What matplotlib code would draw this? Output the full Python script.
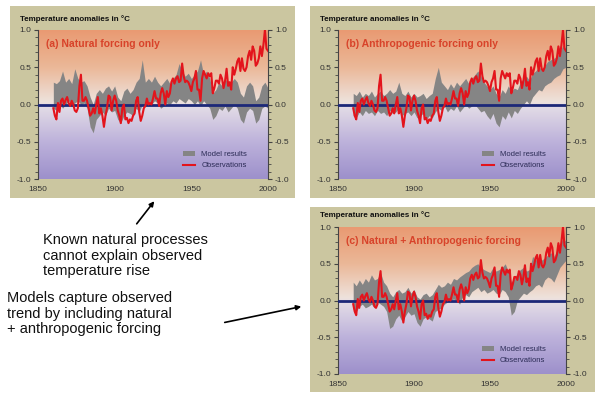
import numpy as np
import matplotlib
matplotlib.use("Agg")
import matplotlib.pyplot as plt
from matplotlib.patches import Rectangle, Patch, FancyArrowPatch
from matplotlib.lines import Line2D
from matplotlib.colors import LinearSegmentedColormap

plt.rcParams['font.family'] = ['Liberation Sans', 'DejaVu Sans']

# observed annual anomalies 1860-2000
obs_years = list(range(1860, 2001))
observations = [
    -0.05, -0.15, -0.20, 0.02, -0.10, 0.05, 0.08, 0.00, 0.06, 0.10,
    0.02, -0.02, 0.05, 0.00, -0.08, -0.10, -0.05, 0.25, 0.40, 0.05,
    0.05, 0.10, 0.05, -0.05, -0.15, -0.12, -0.05, -0.12, 0.00, 0.10,
    -0.12, -0.05, -0.15, -0.30, -0.15, -0.05, 0.12, 0.10, -0.08, 0.05,
    0.12, 0.05, -0.08, -0.15, -0.25, -0.05, 0.00, -0.20, -0.18, -0.25,
    -0.20, -0.22, -0.15, -0.12, 0.05, 0.10, -0.10, -0.22, -0.15, -0.05,
    -0.02, 0.08, 0.00, 0.02, 0.00, 0.08, 0.18, 0.08, 0.08, -0.02,
    0.15, 0.22, 0.15, 0.00, 0.18, 0.10, 0.15, 0.30, 0.35, 0.28,
    0.35, 0.38, 0.30, 0.32, 0.55, 0.38, 0.30, 0.32, 0.30, 0.25,
    0.18, 0.30, 0.35, 0.45, 0.20, 0.20, 0.05, 0.35, 0.45, 0.40,
    0.35, 0.42, 0.38, 0.42, 0.15, 0.22, 0.32, 0.32, 0.28, 0.40,
    0.35, 0.22, 0.32, 0.48, 0.25, 0.30, 0.20, 0.50, 0.40, 0.48,
    0.58, 0.62, 0.45, 0.62, 0.48, 0.45, 0.50, 0.65, 0.72, 0.60,
    0.78, 0.72, 0.52, 0.55, 0.62, 0.78, 0.65, 0.80, 1.00, 0.75,
    0.72,
]

# model envelopes, every second year 1860-2000
model_years = list(range(1860, 2001, 2))
natural_lo = [
    -0.05, -0.08, 0.02, -0.05, 0.00, 0.05, -0.02, 0.02, 0.05, 0.00,
    0.02, -0.05, -0.30, -0.38, -0.20, -0.15, -0.10, -0.15, -0.05, -0.10,
    -0.08, -0.20, -0.25, -0.15, -0.10, -0.12, -0.15, -0.05, -0.10, 0.00,
    -0.02, 0.02, 0.00, 0.05, 0.02, -0.05, -0.02, 0.02, 0.00, 0.05,
    0.02, 0.08, 0.05, 0.02, 0.08, 0.05, 0.00, 0.05, -0.02, 0.05,
    0.00, -0.05, -0.20, -0.15, -0.05, -0.08, -0.02, -0.10, -0.05, 0.00,
    -0.05, -0.20, -0.25, -0.10, -0.05, -0.08, -0.25, -0.20, -0.05, -0.02,
    -0.05,
]
natural_hi = [
    0.30, 0.28, 0.32, 0.45, 0.30, 0.35, 0.28, 0.48, 0.35, 0.30,
    0.32, 0.25, 0.10, 0.00, 0.15, 0.20, 0.15, 0.22, 0.25, 0.18,
    0.25, 0.10, 0.05, 0.18, 0.22, 0.15, 0.20, 0.30, 0.35, 0.60,
    0.30, 0.35, 0.30, 0.38, 0.30, 0.25, 0.30, 0.35, 0.28, 0.35,
    0.40, 0.55, 0.45, 0.38, 0.42, 0.35, 0.40, 0.45, 0.60, 0.40,
    0.45, 0.35, 0.15, 0.20, 0.30, 0.25, 0.35, 0.28, 0.30, 0.35,
    0.30, 0.15, 0.10, 0.25, 0.30, 0.25, 0.05, 0.10, 0.25, 0.30,
    0.22,
]
anthro_lo = [
    -0.15, -0.18, -0.10, -0.15, -0.08, -0.12, -0.10, -0.15, -0.08, -0.12,
    -0.10, -0.15, -0.08, -0.12, -0.10, -0.05, -0.15, -0.12, -0.10, -0.15,
    -0.10, -0.18, -0.15, -0.12, -0.20, -0.15, -0.18, -0.10, -0.05, -0.08,
    -0.02, -0.10, -0.05, -0.08, -0.02, -0.10, -0.05, 0.00, -0.05, -0.02,
    0.00, -0.05, -0.10, -0.08, -0.15, -0.20, -0.12, -0.25, -0.30, -0.15,
    -0.20, -0.10, -0.18, -0.08, -0.12, -0.05, 0.00, 0.05, 0.00, 0.10,
    0.15, 0.20, 0.18, 0.25, 0.28, 0.30, 0.35, 0.38, 0.40, 0.48,
    0.50,
]
anthro_hi = [
    0.15, 0.12, 0.18, 0.10, 0.15, 0.12, 0.18, 0.10, 0.15, 0.18,
    0.12, 0.15, 0.20, 0.15, 0.18, 0.30, 0.15, 0.12, 0.18, 0.10,
    0.15, 0.10, 0.12, 0.15, 0.08, 0.12, 0.15, 0.35, 0.50, 0.30,
    0.25, 0.20, 0.28, 0.22, 0.30, 0.25, 0.30, 0.35, 0.28, 0.35,
    0.40, 0.45, 0.38, 0.30, 0.25, 0.20, 0.25, 0.15, 0.10, 0.20,
    0.15, 0.25, 0.18, 0.22, 0.20, 0.30, 0.35, 0.38, 0.32, 0.42,
    0.45, 0.50, 0.48, 0.52, 0.58, 0.60, 0.62, 0.65, 0.70, 0.80,
    0.75,
]
combined_lo = [
    -0.12, -0.15, -0.08, -0.05, -0.10, -0.08, -0.05, -0.10, -0.02, -0.05,
    -0.08, -0.15, -0.38, -0.35, -0.25, -0.20, -0.28, -0.22, -0.15, -0.20,
    -0.18, -0.30, -0.35, -0.25, -0.22, -0.25, -0.28, -0.15, -0.12, -0.10,
    -0.05, -0.02, 0.00, 0.02, 0.00, -0.05, 0.05, 0.08, 0.05, 0.12,
    0.15, 0.18, 0.12, 0.15, 0.10, 0.12, 0.15, 0.10, 0.08, 0.15,
    0.12, 0.05, -0.20, -0.15, 0.00, 0.05, 0.10, 0.08, 0.12, 0.15,
    0.20, 0.22, 0.18, 0.28, 0.32, 0.30, 0.25, 0.35, 0.45, 0.50,
    0.55,
]
combined_hi = [
    0.25, 0.20, 0.28, 0.22, 0.30, 0.25, 0.35, 0.28, 0.30, 0.38,
    0.25, 0.20, 0.10, 0.05, 0.12, 0.15, 0.10, 0.12, 0.18, 0.10,
    0.15, 0.05, 0.02, 0.08, 0.10, 0.05, 0.08, 0.15, 0.22, 0.18,
    0.20, 0.25, 0.22, 0.30, 0.28, 0.32, 0.35, 0.38, 0.40, 0.45,
    0.48, 0.50, 0.45, 0.42, 0.40, 0.38, 0.45, 0.40, 0.42, 0.45,
    0.50, 0.40, 0.25, 0.30, 0.38, 0.42, 0.45, 0.40, 0.42, 0.60,
    0.55, 0.58, 0.55, 0.58, 0.62, 0.65, 0.60, 0.68, 0.75, 0.85,
    0.80,
]

panel_titles = ["(a) Natural forcing only",
                "(b) Anthropogenic forcing only",
                "(c) Natural + Anthropogenic forcing"]
y_ticks = [-1.0, -0.5, 0.0, 0.5, 1.0]
x_ticks = [1850, 1900, 1950, 2000]

TAN = "#cbc6a0"
grad = LinearSegmentedColormap.from_list("bg", [
    (0.00, "#9d90cb"), (0.25, "#bdb2db"), (0.48, "#e2dbe6"),
    (0.52, "#eee2dc"), (0.75, "#ebb898"), (1.00, "#e99a72")])

fig = plt.figure(figsize=(6.0, 3.94), dpi=100)
W, H = 600.0, 394.0

def fig_rect(x0, y0, x1, y1):
    # pixel box (top-left origin) -> figure fraction
    return [x0 / W, 1 - y1 / H, (x1 - x0) / W, (y1 - y0) / H]

boxes = [(10, 6, 295, 198), (310, 6, 595, 198), (310, 207, 595, 392)]
head_y = [19, 19, 215]
plots = [(38, 30, 268, 179), (338, 30, 566, 179), (338, 227, 566, 374)]
bands = [(natural_lo, natural_hi), (anthro_lo, anthro_hi), (combined_lo, combined_hi)]

for box, hy, pl, (lo, hi), title in zip(boxes, head_y, plots, bands, panel_titles):
    r = fig_rect(*box)
    fig.patches.append(Rectangle((r[0], r[1]), r[2], r[3], transform=fig.transFigure,
                                 facecolor=TAN, edgecolor="none", zorder=-5))
    fig.text((box[0] + 10) / W, 1 - hy / H, "Temperature anomalies in °C",
             fontsize=5.8, fontweight="bold", color="#111111", va="center")

    ax = fig.add_axes(fig_rect(*pl))
    ax.set_zorder(1)
    ax.set_xlim(1850, 2000)
    ax.set_ylim(-1.0, 1.0)
    ax.imshow(np.linspace(-1, 1, 256).reshape(-1, 1), cmap=grad, origin="lower",
              extent=[1850, 2000, -1, 1], aspect="auto", zorder=0)
    ax.fill_between(model_years, lo, hi, color="#858585", lw=0, zorder=2)
    ax.axhline(0, color="#1c2878", lw=2, zorder=3)
    ax.plot(obs_years, observations, color="#e3141c", lw=1.5, zorder=4)

    ax.text(0.035, 0.905, title, transform=ax.transAxes, fontsize=7.5,
            fontweight="bold", color="#d8432a", va="center")

    handles = [Patch(facecolor="#858585", edgecolor="none"),
               Line2D([], [], color="#e3141c", lw=1.5)]
    leg = ax.legend(handles, ["Model results", "Observations"], loc="lower left",
                    bbox_to_anchor=(0.6, 0.02), frameon=False, fontsize=5.5,
                    handlelength=1.6, handleheight=0.6, labelspacing=0.55,
                    handletextpad=0.8)
    for t in leg.get_texts():
        t.set_color("#2b2b55")

    ax.set_yticks(y_ticks)
    ax.set_yticklabels([f"{v:.1f}" for v in y_ticks])
    ax.set_yticks(np.arange(-1.0, 1.01, 0.1), minor=True)
    ax.set_xticks(x_ticks)
    ax.tick_params(axis="y", which="both", left=True, right=True, labelleft=True,
                   labelright=True, direction="out", color="#444444",
                   labelsize=6, labelcolor="#333333", pad=2)
    ax.tick_params(axis="y", which="major", length=3)
    ax.tick_params(axis="y", which="minor", length=2)
    ax.tick_params(axis="x", length=0, labelsize=6, labelcolor="#333333", pad=5)
    for s in ["top", "bottom"]:
        ax.spines[s].set_visible(False)
    for s in ["left", "right"]:
        ax.spines[s].set_color("#444444")
        ax.spines[s].set_linewidth(0.8)

fig.text(43 / W, 1 - 233 / H,
         "Known natural processes\ncannot explain observed\ntemperature rise",
         fontsize=10.5, color="#111111", va="top", linespacing=1.15)
fig.text(7 / W, 1 - 291 / H,
         "Models capture observed\ntrend by including natural\n+ anthropogenic forcing",
         fontsize=10.5, color="#111111", va="top", linespacing=1.15)

fig.add_artist(FancyArrowPatch(
    (135 / W, 1 - 226 / H), (156 / W, 1 - 199 / H), transform=fig.transFigure,
    arrowstyle="-|>", mutation_scale=7, color="black", lw=1.2))
fig.add_artist(FancyArrowPatch(
    (222 / W, 1 - 323 / H), (304 / W, 1 - 306 / H), transform=fig.transFigure,
    arrowstyle="-|>", mutation_scale=7, color="black", lw=1.2))

fig.savefig("out.png", dpi=100, facecolor="white")
